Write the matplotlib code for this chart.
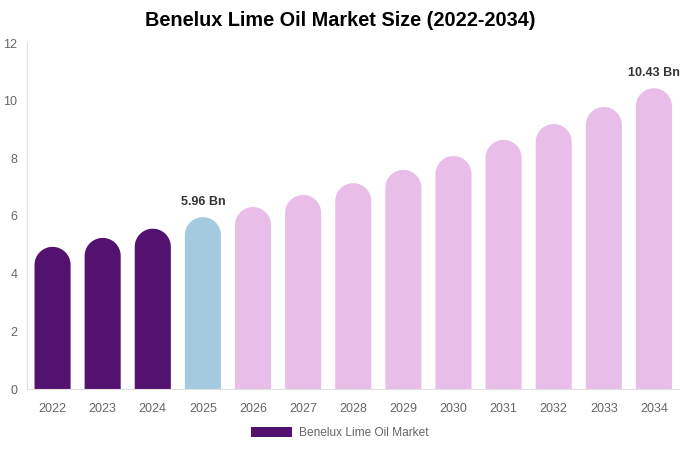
import matplotlib
matplotlib.use("Agg")
import numpy as np
import matplotlib.pyplot as plt
from matplotlib.patches import Polygon, Patch

plt.rcParams['font.family'] = ['Liberation Sans', 'DejaVu Sans']

years = ['2022', '2023', '2024', '2025', '2026', '2027', '2028',
         '2029', '2030', '2031', '2032', '2033', '2034']
values = [4.93, 5.24, 5.56, 5.96, 6.31, 6.73, 7.14, 7.60, 8.08, 8.64, 9.19, 9.78, 10.43]
colors = ['#541270'] * 3 + ['#a3cadf'] + ['#e8bee9'] * 9
labels = {3: '5.96 Bn', 12: '10.43 Bn'}
legend_name = 'Benelux Lime Oil Market'

fig = plt.figure(figsize=(6.8, 4.5), dpi=100)
ax = fig.add_axes([27 / 680, 1 - 389 / 450, 652 / 680, (389 - 43) / 450])
ax.set_xlim(-0.51, 12.5)
ax.set_ylim(0, 12)

width = 0.72
# half bar width in pixels -> cap height in data units
bbox = ax.get_position()
px_per_x = bbox.width * 680 / (12.5 + 0.51)
px_per_y = bbox.height * 450 / 12
ry = (width / 2) * px_per_x / px_per_y


def rounded_bar(x, v, color):
    """bar with a fully rounded top"""
    t = np.linspace(0, np.pi, 60)
    top_x = x + (width / 2) * np.cos(t)
    top_y = (v - ry) + ry * np.sin(t)
    xs = np.concatenate([[x + width / 2], top_x, [x - width / 2]])
    ys = np.concatenate([[0], top_y, [0]])
    ax.add_patch(Polygon(np.column_stack([xs, ys]), closed=True,
                         facecolor=color, edgecolor='none', linewidth=0))


for i, (v, c) in enumerate(zip(values, colors)):
    rounded_bar(i, v, c)
    if i in labels:
        ax.text(i, v + 0.33, labels[i], ha='center', va='bottom',
                fontsize=9, fontweight='bold', color='#333333')

ax.set_xticks(range(len(years)))
ax.set_xticklabels(years)
ax.set_yticks(range(0, 13, 2))
ax.tick_params(axis='both', length=0, colors='#666666', labelsize=9)
ax.tick_params(axis='y', pad=7)
ax.tick_params(axis='x', pad=10)
for s in ['top', 'right']:
    ax.spines[s].set_visible(False)
for s in ['left', 'bottom']:
    ax.spines[s].set_color('#e0e0e0')
    ax.spines[s].set_linewidth(0.8)

fig.suptitle('Benelux Lime Oil Market Size (2022-2034)', y=1 - 21 / 450, va='center',
             fontsize=14.3, fontweight='bold', x=0.5)

fig.legend(handles=[Patch(facecolor='#541270', label=legend_name)],
           loc='center', bbox_to_anchor=(0.5, 1 - 433 / 450), frameon=False,
           fontsize=8.6, labelcolor='#666666', handlelength=3.4, handleheight=1.0,
           handletextpad=0.6)

fig.savefig('out.png', dpi=100)
